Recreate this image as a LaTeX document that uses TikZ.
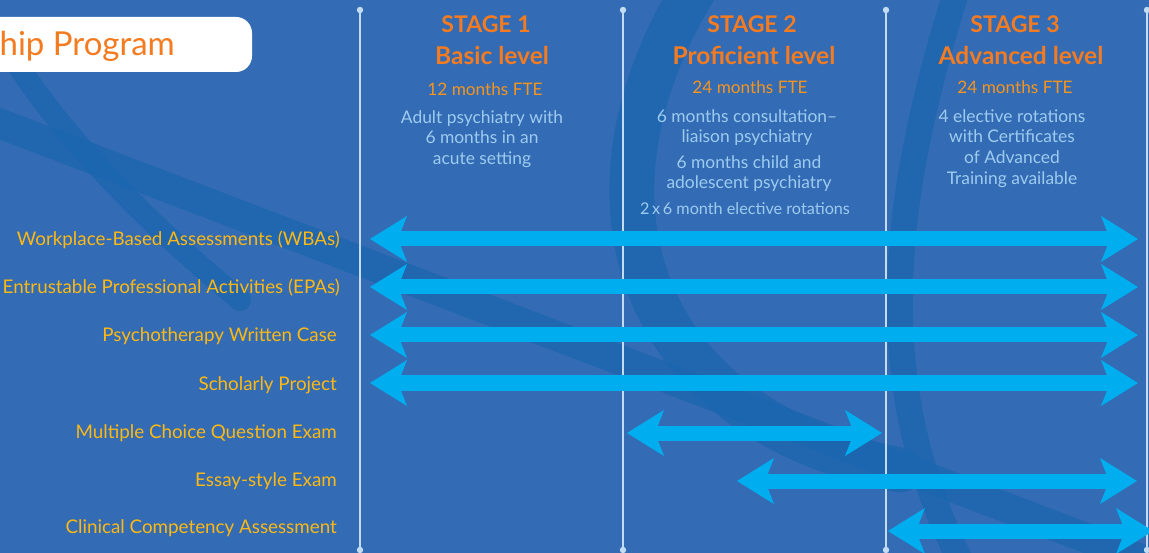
\documentclass[tikz,border=0pt]{standalone}
\usepackage{fontspec}
\setmainfont{Lato}
\usetikzlibrary{arrows.meta}
\definecolor{bgBlue}{HTML}{336CB4}
\definecolor{bandBlue}{HTML}{1B66AF}
\definecolor{barCyan}{HTML}{00AEEF}
\definecolor{stageOrange}{HTML}{F47B20}
\definecolor{fteOrange}{HTML}{F7941D}
\definecolor{noteBlue}{HTML}{9DCBF0}
\definecolor{labelGold}{HTML}{FDB813}
\definecolor{ruleBlue}{HTML}{C3DCF3}
\newcommand\barW{15pt}
\newcommand\topY{10}
\newcommand\botY{550}
\newcommand\tipArrow{Stealth[length=37pt,width=46pt,inset=9pt,line width=0pt]}
\tikzset{
  spanbar/.style={draw=barCyan, line width=\barW, {\tipArrow}-{\tipArrow}},
  rowlabel/.style={anchor=base east, text=labelGold, inner sep=0pt,
    font=\fontsize{18.8}{20}\selectfont},
  stagehead/.style={anchor=base, text=stageOrange, inner sep=0pt,
    font=\bfseries\fontsize{23}{26}\selectfont},
  levelhead/.style={stagehead, font=\bfseries\fontsize{24.5}{28}\selectfont},
  fte/.style={anchor=base, text=fteOrange, inner sep=0pt,
    font=\fontsize{17.2}{20}\selectfont},
  note/.style={anchor=north, text=noteBlue, inner sep=0pt, align=center,
    font=\fontsize{17.4}{20.8}\selectfont},
  band/.style={draw=bandBlue, line width=30pt, line cap=round, opacity=0.75},
  stagerule/.style={draw=ruleBlue, line width=1.6pt},
}
\begin{document}
\begin{tikzpicture}[x=1pt, y=-1pt]
  \useasboundingbox (0,0) rectangle (1149,553);
  \clip (0,0) rectangle (1149,553);
  \fill[bgBlue] (0,0) rectangle (1149,553);

  % background swooshes
  \draw[band] (-20,116) -- (1170,570);
  \draw[band, line width=22pt] (-10,20) .. controls (40,110) and (120,200) .. (240,300);
  \draw[band, line width=45pt] (700,-20) .. controls (560,200) and (640,420) .. (900,470);
  \draw[band, line width=26pt] (960,-20) .. controls (890,200) and (870,380) .. (960,560);

  % title tab
  \fill[white, rounded corners=16pt] (-30,17) rectangle (252,72);
  \node[anchor=base east, text=stageOrange, inner sep=0pt,
    font=\fontsize{33}{36}\selectfont] (title) at (175,56) {hip Program};

  % stage rules
  \foreach \x/\n in {360/a, 623/b, 886/c, 1147/d} {
    \coordinate (rule\n top) at (\x,\topY);
    \coordinate (rule\n bot) at (\x,\botY);
    \draw[stagerule] (rule\n top) -- (rule\n bot);
    \fill[ruleBlue] (rule\n top) circle (3.2);
    \fill[ruleBlue] (rule\n bot) circle (3.2);
  }

  % stage 1
  \node[stagehead] (stA) at (486,33) {STAGE 1};
  \node[levelhead] (lvA) at (492,65) {Basic level};
  \node[fte] (fteA) at (485,96) {12 months FTE};
  \node[note] (noteA) at (482,110) {Adult psychiatry with\\6 months in an\\acute setting};

  % stage 2
  \node[stagehead] (stB) at (752,33) {STAGE 2};
  \node[levelhead] (lvB) at (754,65) {Proficient level};
  \node[fte] (fteB) at (750,94) {24 months FTE};
  \node[note] (noteB1) at (747,109) {6 months consultation–\\liaison psychiatry};
  \node[note] (noteB2) at (749,155) {6 months child and\\adolescent psychiatry};
  \node[note, anchor=base, font=\fontsize{16.2}{18}\selectfont] (noteB3) at (745,215) {2\,x\,6 month elective rotations};

  % stage 3
  \node[stagehead] (stC) at (1015,33) {STAGE 3};
  \node[levelhead] (lvC) at (1021,65) {Advanced level};
  \node[fte] (fteC) at (1015,94) {24 months FTE};
  \node[note] (noteC) at (1012,109) {4 elective rotations\\with Certificates\\of Advanced\\Training available};

  % assessments
  \node[rowlabel] (wba) at (340,246) {Workplace-Based Assessments (WBAs)};
  \node[rowlabel] (epa) at (340,294) {Entrustable Professional Activities (EPAs)};
  \node[rowlabel] (pwc) at (337,342) {Psychotherapy Written Case};
  \node[rowlabel] (sch) at (337,390) {Scholarly Project};
  \node[rowlabel] (mcq) at (337,438) {Multiple Choice Question Exam};
  \node[rowlabel] (ese) at (337,486) {Essay-style Exam};
  \node[rowlabel] (cca) at (337,533) {Clinical Competency Assessment};

  \foreach \r/\y in {wba/239, epa/287, pwc/335, sch/383} {
    \coordinate (\r L) at (370,\y);
    \coordinate (\r R) at (1138,\y);
  }
  \coordinate (mcqL) at (627,433);
  \coordinate (mcqR) at (882,433);
  \coordinate (eseL) at (737,481);
  \coordinate (eseR) at (1137,481);
  \coordinate (ccaL) at (888,531);
  \coordinate (ccaR) at (1153,531);

  \foreach \r in {wba, epa, pwc, sch, mcq, ese, cca}
    \draw[spanbar] (\r L) -- (\r R);
\end{tikzpicture}
\end{document}
